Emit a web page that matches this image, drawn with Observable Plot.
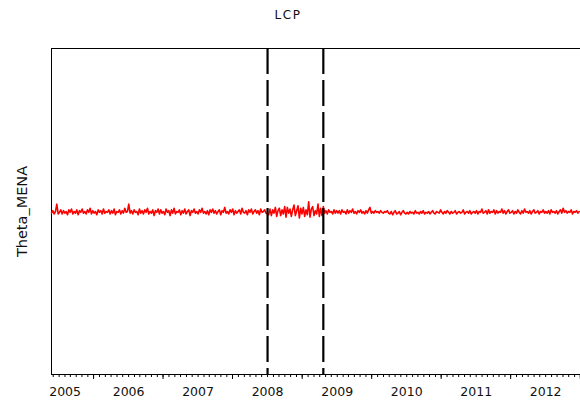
<!DOCTYPE html>
<html>
<head>
<meta charset="utf-8">
<script src="https://cdn.jsdelivr.net/npm/d3@7"></script>
<script src="https://cdn.jsdelivr.net/npm/@observablehq/plot@0.6"></script>
<style>
  body { margin: 0; background: #fff; }
  #title {
    width: 580px; height: 30px; text-align: center;
    font: 12px/30px "DejaVu Sans", sans-serif; letter-spacing: 1.5px; color: #111;
    text-indent: -4px;
  }
</style>
</head>
<body>
<div id="title">LCP</div>
<div id="chart"></div>
<script>
// Weekly Theta_MENA estimates, one array per calendar year (Monday weeks)
const v2004 = [-0.02, 0.01, -0.03, 0.00, 0.09, -0.03];
const v2005 = [
  -0.01, 0.02, -0.03, 0.01, -0.02, 0.00, -0.04, 0.02, -0.01, 0.03, -0.03, 0.00, -0.02,
  0.02, -0.04, 0.01, -0.01, 0.03, -0.02, 0.00, -0.03, 0.02, -0.01, 0.04, -0.03, 0.01,
  -0.02, 0.00, -0.04, 0.02, -0.01, 0.01, -0.03, 0.03, -0.02, 0.00, -0.01, 0.02, -0.03,
  0.01, -0.02, 0.03, -0.04, 0.00, -0.01, 0.02, -0.03, 0.01, -0.02, 0.04, -0.01, 0.00
];
const v2006 = [
  0.09, -0.02, 0.01, -0.03, 0.02, -0.01, 0.00, -0.04, 0.03, -0.02, 0.01, -0.03, 0.02,
  -0.01, 0.04, -0.03, 0.00, -0.02, 0.02, -0.05, 0.01, -0.01, 0.03, -0.03, 0.02, -0.02,
  0.00, -0.04, 0.03, -0.01, 0.01, -0.05, 0.02, -0.02, 0.04, -0.03, 0.00, -0.01, 0.02,
  -0.04, 0.01, -0.02, 0.03, -0.03, 0.00, 0.02, -0.05, 0.01, -0.01, 0.03, -0.02, 0.00
];
const v2007 = [
  -0.03, 0.02, -0.01, 0.04, -0.02, 0.00, -0.03, 0.01, -0.04, 0.02, -0.01, 0.03, -0.02,
  0.01, -0.03, 0.00, 0.02, -0.04, 0.01, -0.01, 0.05, -0.02, 0.00, -0.03, 0.02, -0.01,
  0.03, -0.04, 0.01, -0.02, 0.00, 0.02, -0.03, 0.04, -0.01, -0.02, 0.01, -0.04, 0.02,
  -0.01, 0.03, -0.03, 0.00, 0.02, -0.02, 0.01, -0.04, 0.03, -0.01, 0.00, 0.02, -0.02
];
const v2008 = [
  -0.04, 0.03, -0.05, 0.02, -0.02, 0.05, -0.06, 0.01, 0.04, -0.05, 0.02, -0.03, 0.06,
  -0.07, 0.05, -0.02, 0.03, -0.06, 0.02, 0.08, -0.05, 0.01, 0.07, -0.08, 0.04, -0.03,
  0.05, -0.06, 0.02, -0.04, 0.12, -0.07, 0.03, 0.06, -0.05, 0.01, -0.03, 0.09, -0.06,
  0.04, -0.05, 0.06, -0.02, 0.01, -0.03, 0.02, -0.01, 0.00, -0.03, 0.02, -0.02, 0.01
];
const v2009 = [
  -0.02, 0.01, -0.03, 0.02, -0.01, 0.00, -0.03, 0.02, -0.02, 0.01, -0.01, 0.03, -0.02,
  0.00, -0.03, 0.01, -0.01, 0.02, -0.02, 0.00, -0.03, 0.01, -0.02, 0.02, 0.05, -0.02,
  0.00, -0.02, 0.01, -0.01, 0.00, -0.02, 0.01, -0.01, -0.02, 0.00, -0.01, 0.01, -0.02,
  -0.03, 0.00, -0.04, -0.01, 0.01, -0.03, -0.02, 0.00, -0.04, -0.01, 0.01, -0.02, -0.03
];
const v2010 = [
  -0.01, -0.03, 0.00, -0.02, -0.01, -0.03, 0.01, -0.02, -0.01, -0.03, 0.00, -0.02, 0.01,
  -0.03, -0.01, -0.02, 0.00, -0.03, -0.01, 0.01, -0.02, -0.03, 0.00, -0.01, -0.02, 0.02,
  -0.01, -0.03, 0.00, -0.02, 0.01, -0.01, -0.03, 0.00, -0.02, -0.01, 0.01, -0.03, -0.01,
  0.00, -0.02, -0.01, 0.02, -0.03, -0.01, 0.00, -0.02, 0.01, -0.03, -0.01, 0.00, -0.02
];
const v2011 = [
  0.01, -0.03, 0.00, -0.01, 0.03, -0.02, -0.01, 0.01, -0.03, 0.02, -0.02, 0.00, -0.01,
  0.02, -0.03, 0.01, -0.02, 0.00, -0.01, 0.03, -0.02, 0.01, -0.03, 0.00, 0.02, -0.02,
  -0.01, 0.01, -0.03, 0.00, -0.02, 0.02, -0.01, -0.03, 0.01, -0.02, 0.03, -0.01, 0.00,
  -0.02, 0.01, -0.03, 0.00, 0.02, -0.02, -0.01, 0.01, -0.03, 0.00, -0.01, 0.02, -0.02
];
const v2012 = [
  0.00, -0.02, 0.01, -0.03, 0.02, -0.01, 0.00, -0.02, 0.01, -0.03, 0.00, 0.02, -0.02,
  0.04, -0.01, 0.01, -0.02, 0.00, -0.01, 0.02, -0.03, 0.00, -0.01, 0.01, -0.02, 0.00
];

// First week of each yearly block
const blocks = [
  ["2004-11-22", v2004],
  [2005, v2005], [2006, v2006], [2007, v2007], [2008, v2008],
  [2009, v2009], [2010, v2010], [2011, v2011], [2012, v2012]
];

// Break dates marking the sub-period
const breaks = ["2008-01-01", "2008-10-20"].map(d => new Date(d));

// Year tick labels
const years = [2005, 2006, 2007, 2008, 2009, 2010, 2011, 2012];

const xDomain = [new Date("2004-11-22"), new Date("2012-07-02")];
const yDomain = [-2, 2];

const rows = [];
for (const [start, values] of blocks) {
  const t0 = typeof start === "number"
    ? d3.utcMonday.ceil(new Date(Date.UTC(start, 0, 1)))
    : new Date(start);
  values.forEach((v, i) => rows.push({date: d3.utcWeek.offset(t0, i), value: v}));
}

const monthTicks = d3.utcMonth.range(d3.utcMonth.ceil(xDomain[0]), xDomain[1]);
const midYearTicks = d3.utcYear.range(new Date(Date.UTC(2004, 0, 1)), xDomain[1])
  .map(d => d3.utcMonth.offset(d, 6))
  .filter(d => d >= xDomain[0] && d <= xDomain[1]);
const yearDates = years.map(y => new Date(Date.UTC(y, 0, 1)));

const font = "DejaVu Sans, sans-serif";

const chart = Plot.plot({
  width: 580,
  height: 373,
  marginLeft: 51,
  marginRight: 0,
  marginTop: 18,
  marginBottom: 29,
  style: {fontFamily: font, background: "#fff", color: "#000"},
  x: {type: "utc", domain: xDomain},
  y: {domain: yDomain, axis: null},
  marks: [
    // frame: left, top and bottom edges
    Plot.ruleX([xDomain[0]], {stroke: "#000", strokeWidth: 1}),
    Plot.ruleY([yDomain[1]], {stroke: "#000", strokeWidth: 1}),
    Plot.ruleY([yDomain[0]], {stroke: "#000", strokeWidth: 1}),
    // monthly and mid-year ticks
    Plot.axisX(monthTicks, {tickSize: 3, tickFormat: () => "", label: null, stroke: "#000"}),
    Plot.axisX(midYearTicks, {tickSize: 5, tickFormat: () => "", label: null, stroke: "#000"}),
    // year labels
    Plot.axisX(yearDates.slice(1), {
      tickSize: 0, tickPadding: 13, tickFormat: d3.utcFormat("%Y"),
      fontSize: 12.5, label: null, fill: "#111"
    }),
    Plot.axisX(yearDates.slice(0, 1), {
      tickSize: 0, tickPadding: 13, tickFormat: d3.utcFormat("%Y"),
      fontSize: 12.5, label: null, fill: "#111", dx: 6
    }),
    // series
    Plot.line(rows, {x: "date", y: "value", stroke: "#ff0000", strokeWidth: 1.6}),
    // structural break lines
    Plot.ruleX(breaks, {stroke: "#000", strokeWidth: 2.2, strokeDasharray: "26,6"}),
    // y axis title
    Plot.text(["Theta_MENA"], {
      frameAnchor: "left", textAnchor: "middle", rotate: -90, dx: -29, fontSize: 14.5,
      fill: "#111", text: d => d, style: {letterSpacing: "0.6px"}
    })
  ]
});

document.getElementById("chart").appendChild(chart);
</script>
</body>
</html>
